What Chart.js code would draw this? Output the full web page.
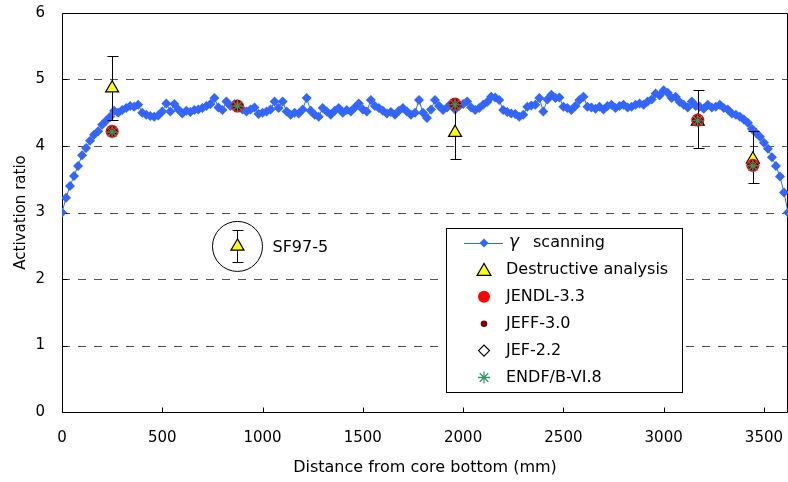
<!DOCTYPE html>
<html>
<head>
<meta charset="utf-8">
<script src="https://cdn.jsdelivr.net/npm/chart.js@4.4.1/dist/chart.umd.min.js"></script>
<style>
  html, body { margin: 0; padding: 0; background: #ffffff; }
  canvas { display: block; }
</style>
</head>
<body>
<canvas id="chart" width="788" height="482"></canvas>
<script>
// Gamma-scanning profile along the fuel rod (mm from core bottom)
const scanX = [
  0, 20, 40, 60, 80, 100, 120, 140, 160, 180,
  200, 220, 240, 260, 280, 300, 320, 340, 360, 380,
  400, 420, 440, 460, 480, 500, 520, 540, 560, 580,
  600, 620, 640, 660, 680, 700, 720, 740, 760, 780,
  800, 820, 840, 860, 880, 900, 920, 940, 960, 980,
  1000, 1020, 1040, 1060, 1080, 1100, 1120, 1140, 1160, 1180,
  1200, 1220, 1240, 1260, 1280, 1300, 1320, 1340, 1360, 1380,
  1400, 1420, 1440, 1460, 1480, 1500, 1520, 1540, 1560, 1580,
  1600, 1620, 1640, 1660, 1680, 1700, 1720, 1740, 1760, 1780,
  1800, 1820, 1840, 1860, 1880, 1900, 1920, 1940, 1960, 1980,
  2000, 2020, 2040, 2060, 2080, 2100, 2120, 2140, 2160, 2180,
  2200, 2220, 2240, 2260, 2280, 2300, 2320, 2340, 2360, 2380,
  2400, 2420, 2440, 2460, 2480, 2500, 2520, 2540, 2560, 2580,
  2600, 2620, 2640, 2660, 2680, 2700, 2720, 2740, 2760, 2780,
  2800, 2820, 2840, 2860, 2880, 2900, 2920, 2940, 2960, 2980,
  3000, 3020, 3040, 3060, 3080, 3100, 3120, 3140, 3160, 3180,
  3200, 3220, 3240, 3260, 3280, 3300, 3320, 3340, 3360, 3380,
  3400, 3420, 3440, 3460, 3480, 3500, 3520, 3540, 3560, 3580,
  3600, 3620
];
const scanRatio = [
  3.00, 3.22, 3.40, 3.55, 3.70, 3.86, 3.97, 4.08, 4.17, 4.22,
  4.32, 4.38, 4.44, 4.53, 4.50, 4.54, 4.57, 4.60, 4.59, 4.62,
  4.50, 4.47, 4.45, 4.44, 4.46, 4.52, 4.64, 4.52, 4.63, 4.55,
  4.49, 4.53, 4.51, 4.54, 4.55, 4.57, 4.60, 4.63, 4.72, 4.58,
  4.54, 4.67, 4.60, 4.63, 4.61, 4.55, 4.52, 4.55, 4.58, 4.48,
  4.50, 4.52, 4.55, 4.67, 4.57, 4.67, 4.52, 4.47, 4.50, 4.49,
  4.55, 4.72, 4.53, 4.47, 4.44, 4.57, 4.52, 4.47, 4.53, 4.57,
  4.50, 4.54, 4.52, 4.58, 4.64, 4.55, 4.52, 4.69, 4.60, 4.57,
  4.53, 4.49, 4.51, 4.47, 4.53, 4.57, 4.52, 4.47, 4.50, 4.69,
  4.50, 4.42, 4.55, 4.69, 4.60, 4.54, 4.58, 4.64, 4.55, 4.60,
  4.63, 4.67, 4.58, 4.54, 4.57, 4.62, 4.66, 4.74, 4.73, 4.69,
  4.54, 4.51, 4.49, 4.48, 4.44, 4.47, 4.59, 4.61, 4.62, 4.72,
  4.52, 4.70, 4.77, 4.72, 4.73, 4.59, 4.57, 4.54, 4.60, 4.69,
  4.74, 4.59, 4.58, 4.56, 4.59, 4.55, 4.60, 4.62, 4.57, 4.60,
  4.62, 4.58, 4.59, 4.62, 4.64, 4.62, 4.67, 4.70, 4.79, 4.76,
  4.84, 4.80, 4.72, 4.74, 4.66, 4.62, 4.58, 4.67, 4.60, 4.59,
  4.56, 4.62, 4.58, 4.59, 4.62, 4.57, 4.55, 4.49, 4.47, 4.44,
  4.40, 4.35, 4.26, 4.20, 4.14, 4.05, 3.96, 3.83, 3.70, 3.54,
  3.30, 3.00
];

// Sample positions and measured / calculated activation ratios
const sampleX = [250, 875, 1960, 3170, 3445];
const destructive = [4.87, 2.49, 4.20, 4.37, 3.80];
const destructiveLow = [4.39, 2.26, 3.80, 3.97, 3.45];
const destructiveHigh = [5.35, 2.74, 4.60, 4.84, 4.23];
const jendl33 = [4.22, 4.60, 4.63, 4.39, 3.71];
const jeff30 = [4.21, 4.59, 4.62, 4.38, 3.70];
const jef22 = [4.22, 4.61, 4.63, 4.39, 3.71];
const endfb68 = [4.21, 4.60, 4.62, 4.38, 3.70];

const seriesNames = ['scanning', 'Destructive analysis', 'JENDL-3.3', 'JEFF-3.0', 'JEF-2.2', 'ENDF/B-VI.8'];
const xTicks = [0, 500, 1000, 1500, 2000, 2500, 3000, 3500];
const yTicks = [0, 1, 2, 3, 4, 5, 6];
const sampleLabel = 'SF97-5';

const FONT = '"DejaVu Sans", "Liberation Sans", sans-serif';
const BLUE = '#3366ff';
const RED = '#ff0000';
const DARKRED = '#800000';
const GREEN = '#339966';
const YELLOW = '#ffff00';

const pts = (xs, ys) => xs.map((x, i) => ({ x: x, y: ys[i] }));

// Fixed axis box sizes; no extra label overhang padding
const fitBox = (s, size) => {
  if (s.isHorizontal()) s.height = size; else s.width = size;
  s.paddingTop = 0; s.paddingBottom = 0; s.paddingLeft = 0; s.paddingRight = 0;
};

// Dashed grid lines, plot frame and inward tick marks
const framePlugin = {
  id: 'frame',
  beforeDatasetsDraw(chart) {
    const ctx = chart.ctx;
    const xs = chart.scales.x, ys = chart.scales.y;
    const a = chart.chartArea;
    ctx.save();
    ctx.lineWidth = 1;
    ctx.strokeStyle = '#555555';
    ctx.setLineDash([8, 8]);
    yTicks.forEach(v => {
      if (v === yTicks[0] || v === yTicks[yTicks.length - 1]) return;
      const y = Math.round(ys.getPixelForValue(v)) + 0.5;
      ctx.beginPath();
      ctx.moveTo(a.left, y);
      ctx.lineTo(a.right, y);
      ctx.stroke();
    });
    ctx.setLineDash([]);
    ctx.strokeStyle = '#000000';
    const l = Math.round(a.left) + 0.5, r = Math.round(a.right) - 0.5;
    const t = Math.round(a.top) + 0.5, b = Math.round(a.bottom) + 0.5;
    ctx.beginPath();
    ctx.moveTo(l, t); ctx.lineTo(r, t); ctx.lineTo(r, b); ctx.lineTo(l, b); ctx.closePath();
    ctx.stroke();
    ctx.beginPath();
    xTicks.forEach(v => {
      const x = Math.round(xs.getPixelForValue(v)) + 0.5;
      ctx.moveTo(x, b); ctx.lineTo(x, b - 5);
    });
    yTicks.forEach(v => {
      const y = Math.round(ys.getPixelForValue(v)) + 0.5;
      ctx.moveTo(l, y); ctx.lineTo(l + 5, y);
    });
    ctx.stroke();
    ctx.restore();
  }
};

// Error bars of the destructive analysis, drawn just under its triangles
const errorBarPlugin = {
  id: 'errorBars',
  beforeDatasetDraw(chart, args) {
    if (args.index !== 1) return;
    const ctx = chart.ctx;
    const xs = chart.scales.x, ys = chart.scales.y;
    ctx.save();
    ctx.strokeStyle = '#000000';
    ctx.lineWidth = 1;
    ctx.beginPath();
    sampleX.forEach((v, i) => {
      const x = Math.round(xs.getPixelForValue(v)) + 0.5;
      const y1 = Math.round(ys.getPixelForValue(destructiveLow[i])) + 0.5;
      const y2 = Math.round(ys.getPixelForValue(destructiveHigh[i])) + 0.5;
      ctx.moveTo(x, y1); ctx.lineTo(x, y2);
      ctx.moveTo(x - 5, y1); ctx.lineTo(x + 6, y1);
      ctx.moveTo(x - 5, y2); ctx.lineTo(x + 6, y2);
    });
    ctx.stroke();
    ctx.restore();
  }
};

// Circle and label around the SF97-5 sample
const samplePlugin = {
  id: 'sampleNote',
  afterDatasetsDraw(chart) {
    const ctx = chart.ctx;
    const xs = chart.scales.x, ys = chart.scales.y;
    const cx = xs.getPixelForValue(sampleX[1]);
    const cy = ys.getPixelForValue(destructive[1]);
    ctx.save();
    ctx.strokeStyle = '#000000';
    ctx.lineWidth = 1;
    ctx.beginPath();
    ctx.arc(cx, cy, 25, 0, Math.PI * 2);
    ctx.stroke();
    ctx.fillStyle = '#000000';
    ctx.font = '16px ' + FONT;
    ctx.textBaseline = 'middle';
    ctx.textAlign = 'left';
    ctx.fillText(sampleLabel, cx + 35, cy + 1);
    ctx.restore();
  }
};

// Boxed legend inside the plot
const legendPlugin = {
  id: 'boxLegend',
  afterDraw(chart) {
    const ctx = chart.ctx;
    const H = Chart.helpers;
    const bx = 446.5, by = 228.5, bw = 236, bh = 164;
    ctx.save();
    ctx.fillStyle = '#ffffff';
    ctx.fillRect(bx, by, bw, bh);
    ctx.strokeStyle = '#000000';
    ctx.lineWidth = 1;
    ctx.strokeRect(bx, by, bw, bh);

    const mx = 484, tx = 506, row0 = 243, step = 26.9;
    const marks = [
      { style: 'rectRot', r: 4.5, fill: BLUE, stroke: BLUE, bw: 0, line: true },
      { style: 'triangle', r: 8, fill: YELLOW, stroke: '#000000', bw: 1.2 },
      { style: 'circle', r: 6, fill: RED, stroke: RED, bw: 0 },
      { style: 'circle', r: 3.3, fill: DARKRED, stroke: DARKRED, bw: 0 },
      { style: 'rectRot', r: 5.5, fill: 'rgba(0,0,0,0)', stroke: '#000000', bw: 1.2 },
      { style: 'star', r: 6, fill: GREEN, stroke: GREEN, bw: 1.3 }
    ];
    ctx.font = '16px ' + FONT;
    ctx.textBaseline = 'middle';
    ctx.textAlign = 'left';
    marks.forEach((m, i) => {
      const y = row0 + i * step;
      if (m.line) {
        ctx.strokeStyle = BLUE;
        ctx.lineWidth = 1;
        ctx.beginPath();
        ctx.moveTo(464, Math.round(y) + 0.5);
        ctx.lineTo(503, Math.round(y) + 0.5);
        ctx.stroke();
      }
      ctx.fillStyle = m.fill;
      ctx.strokeStyle = m.stroke;
      ctx.lineWidth = m.bw;
      H.drawPoint(ctx, { pointStyle: m.style, radius: m.r, rotation: 0, borderWidth: m.bw }, mx, y + (m.style === 'triangle' ? 1.5 : 0));
      ctx.fillStyle = '#000000';
      if (i === 0) {
        ctx.font = 'italic 17px ' + FONT;
        ctx.fillText('\u03B3', tx + 3, y);
        ctx.font = '16px ' + FONT;
        ctx.fillText(seriesNames[0], tx + 27, y);
      } else {
        ctx.fillText(seriesNames[i], tx, y);
      }
    });
    ctx.restore();
  }
};

new Chart(document.getElementById('chart'), {
  type: 'scatter',
  data: {
    datasets: [
      {
        label: '\u03B3 ' + seriesNames[0],
        data: pts(scanX, scanRatio),
        showLine: true,
        borderColor: BLUE,
        borderWidth: 1,
        tension: 0,
        pointStyle: 'rectRot',
        pointRadius: 5,
        pointBackgroundColor: BLUE,
        pointBorderColor: BLUE,
        pointBorderWidth: 0,
        order: 6
      },
      {
        label: seriesNames[1],
        data: pts(sampleX, destructive),
        pointStyle: 'triangle',
        pointRadius: 7.5,
        pointBackgroundColor: YELLOW,
        pointBorderColor: '#000000',
        pointBorderWidth: 1.2,
        order: 5
      },
      {
        label: seriesNames[2],
        data: pts(sampleX, jendl33),
        pointStyle: 'circle',
        pointRadius: 6.5,
        pointBackgroundColor: RED,
        pointBorderColor: RED,
        pointBorderWidth: 0,
        order: 4
      },
      {
        label: seriesNames[3],
        data: pts(sampleX, jeff30),
        pointStyle: 'circle',
        pointRadius: 3,
        pointBackgroundColor: DARKRED,
        pointBorderColor: DARKRED,
        pointBorderWidth: 0,
        order: 3
      },
      {
        label: seriesNames[4],
        data: pts(sampleX, jef22),
        pointStyle: 'rectRot',
        pointRadius: 5.5,
        pointBackgroundColor: 'rgba(0,0,0,0)',
        pointBorderColor: '#000000',
        pointBorderWidth: 1,
        order: 2
      },
      {
        label: seriesNames[5],
        data: pts(sampleX, endfb68),
        pointStyle: 'star',
        pointRadius: 6.5,
        pointBackgroundColor: GREEN,
        pointBorderColor: GREEN,
        pointBorderWidth: 1.2,
        order: 1
      }
    ]
  },
  options: {
    responsive: false,
    animation: false,
    devicePixelRatio: 1,
    events: [],
    layout: { autoPadding: false, padding: { top: 13, right: 0, bottom: 0, left: 0 } },
    plugins: { legend: { display: false }, tooltip: { enabled: false } },
    scales: {
      x: {
        type: 'linear',
        min: 0,
        max: 3620,
        afterBuildTicks: s => { s.ticks = xTicks.map(v => ({ value: v })); },
        afterFit: s => fitBox(s, 70),
        grid: { display: false, drawTicks: false },
        border: { display: false },
        ticks: { padding: 17, color: '#000000', font: { family: FONT, size: 15 }, maxRotation: 0, autoSkip: false, callback: v => String(v) },
        title: { display: true, text: 'Distance from core bottom (mm)', color: '#000000', font: { family: FONT, size: 16 }, padding: { top: 0, bottom: 5 } }
      },
      y: {
        type: 'linear',
        min: 0,
        max: 6,
        afterBuildTicks: s => { s.ticks = yTicks.map(v => ({ value: v })); },
        afterFit: s => fitBox(s, 62),
        grid: { display: false, drawTicks: false },
        border: { display: false },
        ticks: { padding: 17, color: '#000000', font: { family: FONT, size: 15 }, callback: v => String(v) },
        title: { display: true, text: 'Activation ratio', color: '#000000', font: { family: FONT, size: 15 }, padding: { top: 12, bottom: 0 } }
      }
    }
  },
  plugins: [framePlugin, errorBarPlugin, samplePlugin, legendPlugin]
});
</script>
</body>
</html>
